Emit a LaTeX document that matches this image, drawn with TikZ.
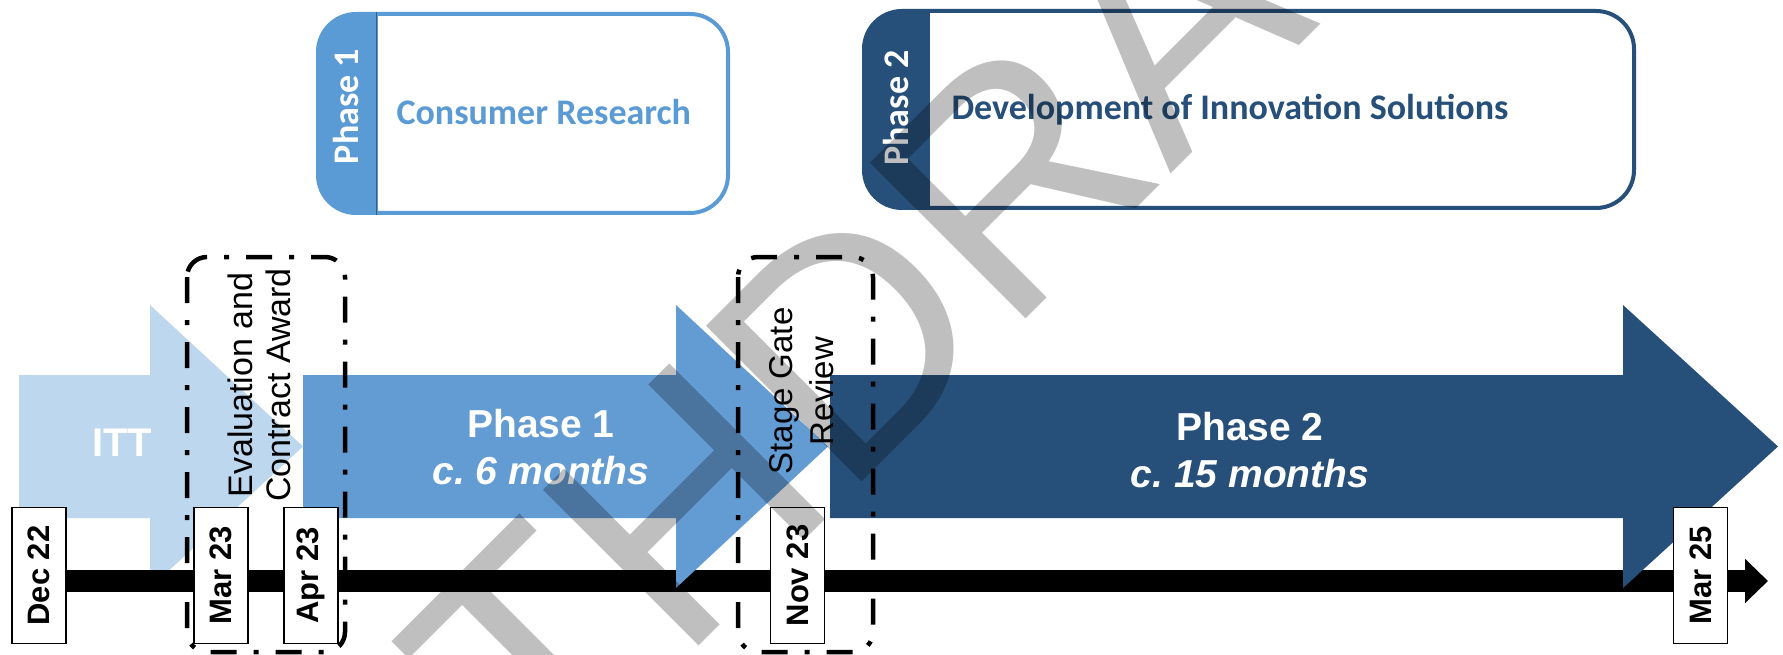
\documentclass[tikz,border=0pt]{standalone}
\usepackage{fontspec}
\setmainfont{Liberation Sans}
\newfontfamily\calibri{Carlito}
\usetikzlibrary{positioning,arrows.meta}
\frenchspacing

\definecolor{ittblue}{RGB}{189,215,238}
\definecolor{oneblue}{RGB}{99,155,211}
\definecolor{oneline}{RGB}{91,155,213}
\definecolor{twoblue}{RGB}{38,79,122}

\newcommand{\fs}[2]{\fontsize{#1}{#2}\selectfont}
% big timeline arrow: body start, head start, tip, colour
\newcommand{\tlarrow}[4]{%
  \fill[#4] (#1,375) -- (#2,375) -- (#2,305) -- (#3,446.5)
            -- (#2,588) -- (#2,518) -- (#1,518) -- cycle;}

\begin{document}
\begin{tikzpicture}[x=1pt, y=-1pt,
  datebox/.style={draw, line width=1.2pt, fill=white, rotate=90,
    minimum width=136pt, minimum height=54pt, inner sep=0pt,
    font=\bfseries\fs{31}{36}},
  gatebox/.style={line width=4.5pt, rounded corners=20pt,
    dash pattern=on 26pt off 17pt on 5pt off 17pt},
  gatetext/.style={rotate=90, align=center, inner sep=0pt},
  phasebox/.style 2 args={draw=#1, line width=4pt, fill=white, rounded corners=38pt,
    path picture={\fill[#1, sharp corners] (path picture bounding box.north west)
      rectangle ([xshift=#2]path picture bounding box.south west);}},
  tabtext/.style={rotate=90, text=white, font=\calibri\bfseries\fs{36}{40}},
  boxtext/.style={anchor=west, font=\calibri\bfseries\fs{36}{40}},
  armtext/.style={text=white, align=center, font=\bfseries\fs{39}{47}},
  timeline/.style={line width=22pt, -{Triangle[length=23pt,width=43pt]}}
]

  \useasboundingbox[fill=white] (0,0) rectangle (1783,655);

  % phase boxes on top
  \node[phasebox={oneline}{60pt}, minimum width=410pt, minimum height=199pt] (box1) at (523,113.5) {};
  \draw[oneline!60!black, line width=0.8pt] ([xshift=60pt]box1.north west) -- ([xshift=60pt]box1.south west);
  \node[tabtext] (tab1) at ([xshift=30pt, yshift=7pt]box1.west) {Phase 1};
  \node[boxtext, text=oneline] (research) at ([xshift=77pt, yshift=1.5pt]box1.west) {Consumer Research};

  \node[phasebox={twoblue}{66pt}, minimum width=770pt, minimum height=197pt] (box2) at (1249,109.5) {};
  \node[tabtext] (tab2) at ([xshift=34pt, yshift=1.5pt]box2.west) {Phase 2};
  \node[boxtext, text=twoblue] (develop) at ([xshift=86pt]box2.west) {Development of Innovation Solutions};

  % ---- arrows and timeline ----
  \tlarrow{19}{150}{303}{ittblue}
  \coordinate (tstart) at (40,581);
  \coordinate (tend) at (1768,581);
  \draw[timeline] (tstart) -- (tend);
  \tlarrow{303}{676}{828}{oneblue}
  \tlarrow{830}{1623}{1778}{twoblue}

  \node[armtext, font=\bfseries\fs{40}{47}] (itt) at (122,443) {ITT};
  \node[armtext] (phase1) at (541,447) {Phase 1\\\textit{c. 6 months}};
  \node[armtext] (phase2) at (1250,450) {Phase 2\\\textit{c. 15 months}};

  % gates
  \draw[gatebox] (187,257) rectangle (345,652);
  \draw[gatebox] (738,257) rectangle (873,652);
  \node[gatetext, font=\fs{34}{38}] (award) at (259,385) {Evaluation and\\Contract Award};
  \node[gatetext, font=\fs{33}{41}] (review) at (802,391) {Stage Gate\\Review};

  % dates
  \foreach \x/\lab/\nm in {39/Dec 22/dec22, 221/Mar 23/mar23, 311/Apr 23/apr23,
                           797.5/Nov 23/nov23, 1700.5/Mar 25/mar25}
    \node[datebox] (\nm) at (\x,575.5) {\lab};

  % watermark
  \node[rotate=45, text=black, text opacity=0.25, inner sep=0pt,
        font=\fs{320}{320}] (stamp) at (900,289) {WITHDRAWN};

\end{tikzpicture}
\end{document}
